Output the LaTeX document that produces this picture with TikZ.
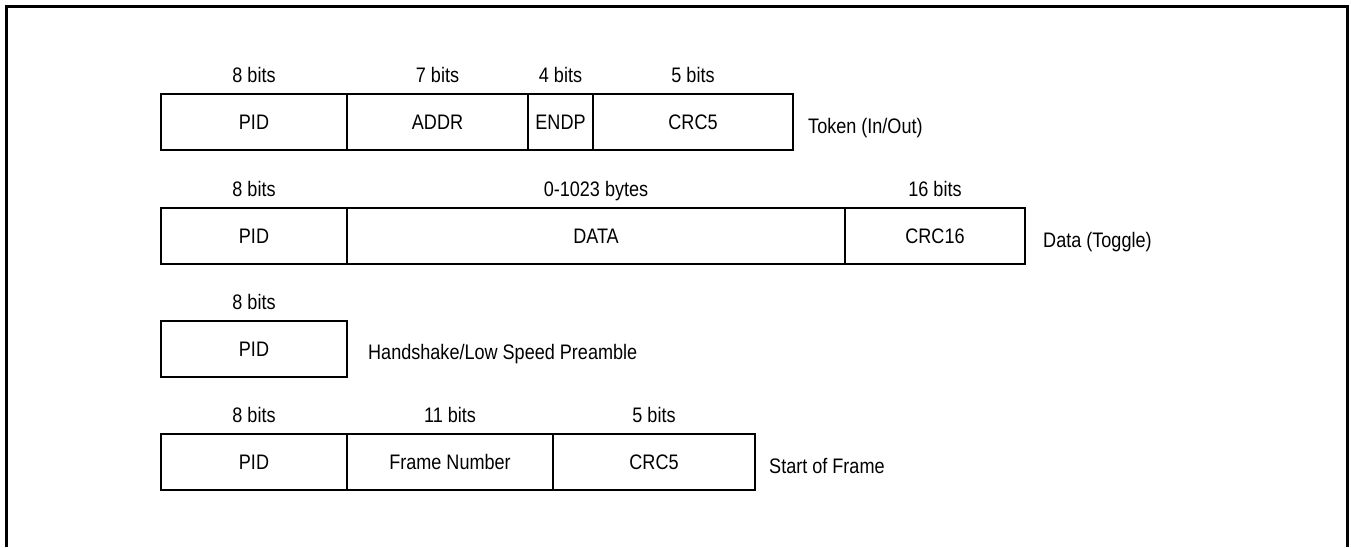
\documentclass[tikz,border=0pt]{standalone}
\usepackage{fontspec}
\setmainfont[FakeStretch=0.86]{Liberation Sans}
\usetikzlibrary{positioning}

\begin{document}
\begin{tikzpicture}[
    x=1pt, y=-1pt,
    every node/.style={font=\fontsize{21}{25}\selectfont},
    field/.style={draw, line width=2pt, outer sep=0pt, inner sep=0pt,
        minimum height=56pt, text height=15pt, text depth=0pt},
    bits/.style={inner sep=0pt, text height=15pt, text depth=0pt},
    desc/.style={inner sep=0pt, text height=15pt, text depth=0pt}
]

\useasboundingbox (0,0) rectangle (1351,547);

% Frame (open at the bottom)
\draw[line width=3pt] (6,547) -- (6,6) -- (1347,6) -- (1347,547);

% Token (In/Out)
\node[field, minimum width=186pt, anchor=west] (tpid) at (161,122) {PID};
\node[field, minimum width=181pt, right=0pt of tpid] (taddr) {ADDR};
\node[field, minimum width=65pt, right=0pt of taddr] (tendp) {ENDP};
\node[field, minimum width=200pt, right=0pt of tendp] (tcrc) {CRC5};

\node[bits, above=11pt of tpid] (tpidw) {8 bits};
\node[bits, above=11pt of taddr] (taddrw) {7 bits};
\node[bits, above=11pt of tendp] (tendpw) {4 bits};
\node[bits, above=11pt of tcrc] (tcrcw) {5 bits};

\node[desc, right=15pt of tcrc, yshift=-4pt] (tname) {Token (In/Out)};

% Data (Toggle)
\node[field, minimum width=186pt, anchor=west] (dpid) at (161,236) {PID};
\node[field, minimum width=498pt, right=0pt of dpid] (ddata) {DATA};
\node[field, minimum width=180pt, right=0pt of ddata] (dcrc) {CRC16};

\node[bits, above=11pt of dpid] (dpidw) {8 bits};
\node[bits, above=11pt of ddata] (ddataw) {0-1023 bytes};
\node[bits, above=11pt of dcrc] (dcrcw) {16 bits};

\node[desc, right=18pt of dcrc, yshift=-4pt] (dname) {Data (Toggle)};

% Handshake
\node[field, minimum width=186pt, anchor=west] (hpid) at (161,349) {PID};
\node[bits, above=11pt of hpid] (hpidw) {8 bits};
\node[desc, right=21pt of hpid, yshift=-3pt] (hname) {Handshake/Low Speed Preamble};

% Start of Frame
\node[field, minimum width=186pt, anchor=west] (spid) at (161,462) {PID};
\node[field, minimum width=206pt, right=0pt of spid] (sframe) {Frame Number};
\node[field, minimum width=202pt, right=0pt of sframe] (scrc) {CRC5};

\node[bits, above=11pt of spid] (spidw) {8 bits};
\node[bits, above=11pt of sframe] (sframew) {11 bits};
\node[bits, above=11pt of scrc] (scrcw) {5 bits};

\node[desc, right=14pt of scrc, yshift=-4pt] (sname) {Start of Frame};

\end{tikzpicture}
\end{document}
